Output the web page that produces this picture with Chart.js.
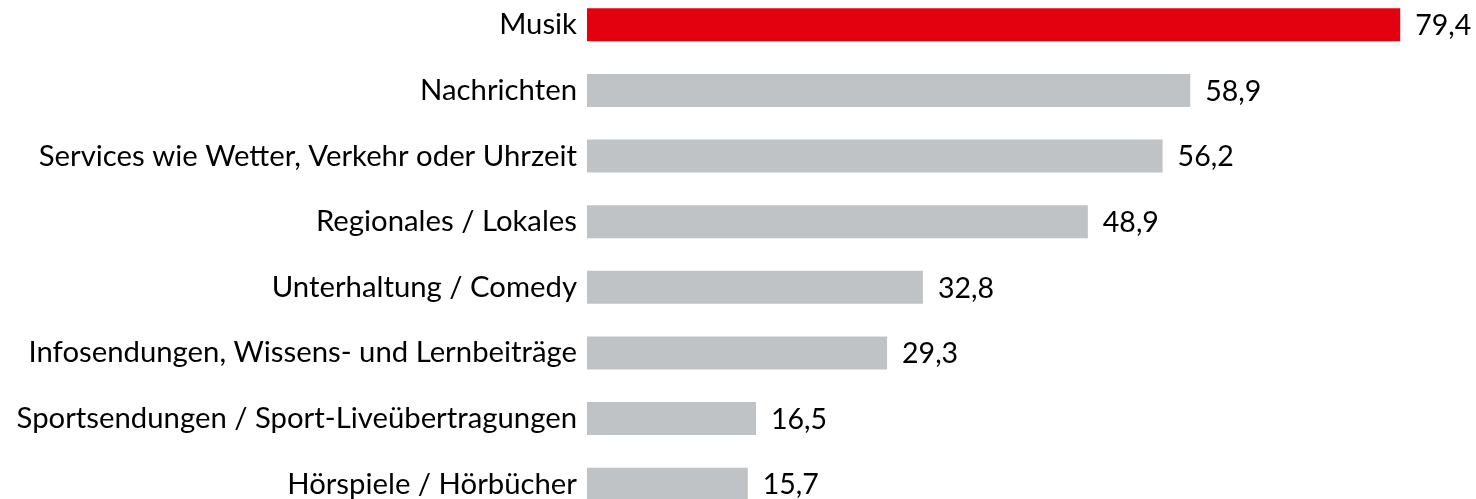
<!DOCTYPE html>
<html>
<head>
<meta charset="utf-8">
<script src="https://cdn.jsdelivr.net/npm/chart.js@4"></script>
<style>
  html, body { margin: 0; padding: 0; background: #fff; overflow: hidden; }
  #wrap { position: absolute; left: 0; top: -8px; width: 1476px; height: 525px; }
</style>
</head>
<body>
<div id="wrap"><canvas id="chart"></canvas></div>
<script>
// Genutzte Inhalte (Anteil in %)
const categories = [
  'Musik',
  'Nachrichten',
  'Services wie Wetter, Verkehr oder Uhrzeit',
  'Regionales / Lokales',
  'Unterhaltung / Comedy',
  'Infosendungen, Wissens- und Lernbeiträge',
  'Sportsendungen / Sport-Liveübertragungen',
  'Hörspiele / Hörbücher'
];
const values = [79.4, 58.9, 56.2, 48.9, 32.8, 29.3, 16.5, 15.7];
const barColors = ['#e3000f', '#bfc3c5', '#bfc3c5', '#bfc3c5', '#bfc3c5', '#bfc3c5', '#bfc3c5', '#bfc3c5'];

const FONT = 'Lato';

// Werte rechts neben den Balken
const valueLabels = {
  id: 'valueLabels',
  afterDatasetsDraw(chart) {
    const ctx = chart.ctx;
    const meta = chart.getDatasetMeta(0);
    ctx.save();
    ctx.font = '28.5px ' + FONT;
    ctx.fillStyle = '#000';
    ctx.textAlign = 'left';
    ctx.textBaseline = 'middle';
    meta.data.forEach((bar, i) => {
      const txt = values[i].toFixed(1).replace('.', ',');
      ctx.fillText(txt, bar.x + 15, bar.y + 1);
    });
    ctx.restore();
  }
};

new Chart(document.getElementById('chart'), {
  type: 'bar',
  data: {
    labels: categories,
    datasets: [{
      data: values,
      backgroundColor: barColors,
      borderWidth: 0,
      categoryPercentage: 1,
      barPercentage: 0.503
    }]
  },
  options: {
    indexAxis: 'y',
    responsive: true,
    maintainAspectRatio: false,
    animation: false,
    layout: { padding: 0 },
    plugins: {
      legend: { display: false },
      tooltip: { enabled: false }
    },
    scales: {
      x: {
        display: false,
        min: 0,
        max: 86.8
      },
      y: {
        grid: { display: false, drawTicks: false },
        border: { display: false },
        ticks: {
          padding: 10,
          color: '#000',
          font: { family: FONT, size: 29.3 }
        },
        afterFit(scale) {
          scale.width = 587;
          scale.paddingTop = 0;
          scale.paddingBottom = 0;
        }
      }
    }
  },
  plugins: [valueLabels]
});
</script>
</body>
</html>
